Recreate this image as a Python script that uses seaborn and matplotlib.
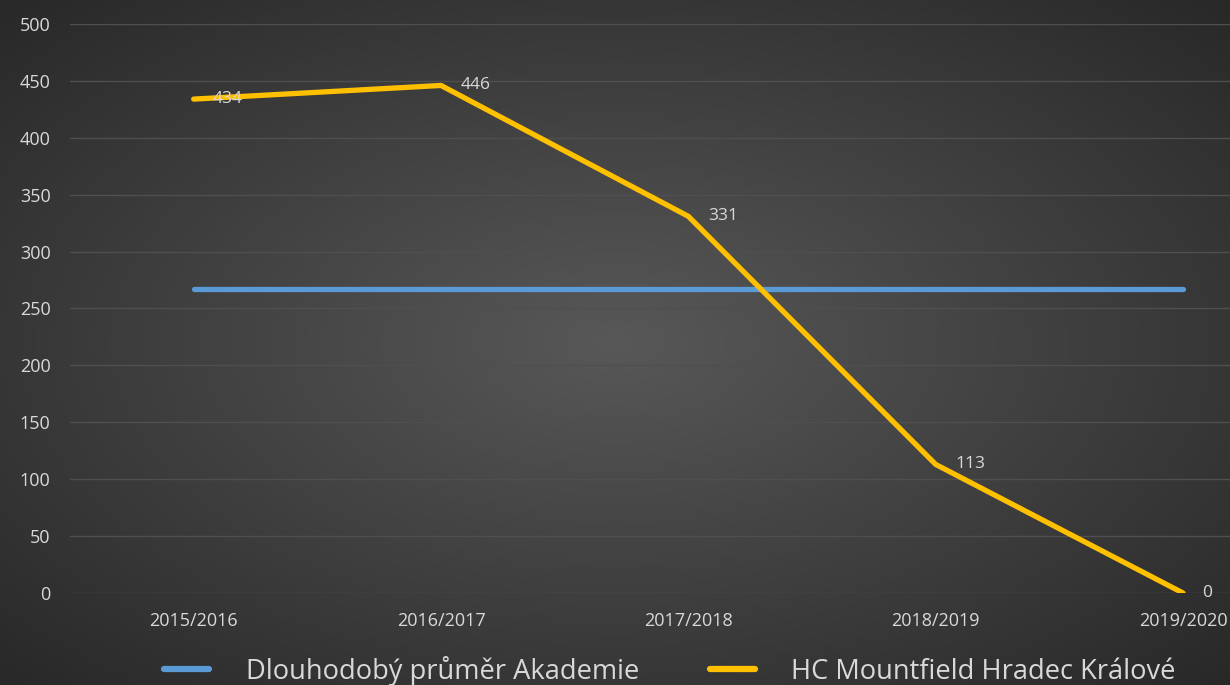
import numpy as np
import pandas as pd
import matplotlib
matplotlib.use("Agg")
import matplotlib.pyplot as plt
import seaborn as sns
from matplotlib.lines import Line2D

seasons = ["2015/2016", "2016/2017", "2017/2018", "2018/2019", "2019/2020"]
hk_values = [434, 446, 331, 113, 0]
avg_values = [267, 267, 267, 267, 267]
series_names = ["Dlouhodobý průměr Akademie", "HC Mountfield Hradec Králové"]
yticks = [0, 50, 100, 150, 200, 250, 300, 350, 400, 450, 500]

sns.set_theme(style="dark")
plt.rcParams["font.family"] = ["Open Sans", "DejaVu Sans"]

fig = plt.figure(figsize=(12.3, 6.85), dpi=100)

# radial gradient background
bg = fig.add_axes([0, 0, 1, 1], zorder=0)
h, w = 685, 1230
yy, xx = np.mgrid[0:h, 0:w]
r = np.sqrt(((xx - w / 2) / (w / 2)) ** 2 + ((yy - h / 2) / (h / 2)) ** 2) / np.sqrt(2)
r = np.clip(r, 0, 1)
inner = np.array([0x58, 0x58, 0x58]) / 255
outer = np.array([0x28, 0x28, 0x28]) / 255
img = inner[None, None, :] * (1 - r[..., None]) + outer[None, None, :] * r[..., None]
bg.imshow(img, aspect="auto", extent=[0, 1, 0, 1])
bg.axis("off")

ax = fig.add_axes([70 / 1230, (685 - 593) / 685, 1 - 70 / 1230, (593 - 24) / 685], zorder=1)
ax.set_facecolor("none")

df = pd.DataFrame({
    "season": seasons * 2,
    "x": list(range(len(seasons))) * 2,
    "value": avg_values + hk_values,
    "series": [series_names[0]] * len(seasons) + [series_names[1]] * len(seasons),
})
palette = {series_names[0]: "#5B9BD5", series_names[1]: "#FFC000"}
sns.lineplot(data=df, x="x", y="value", hue="series", palette=palette,
             linewidth=3.8, ax=ax, legend=False, solid_capstyle="round")

for i, v in enumerate(hk_values):
    ax.annotate(str(v), (i, v), xytext=(14, 0), textcoords="offset points",
                color="#D9D9D9", fontsize=12.5, va="center", ha="left", zorder=5)

ax.set_xlim(-0.5, 4.19)
ax.set_ylim(0, 500)
ax.set_yticks(yticks)
ax.set_xticks(range(len(seasons)))
ax.set_xticklabels(seasons)
ax.tick_params(axis="both", colors="#D9D9D9", labelsize=13, length=0)
ax.tick_params(axis="y", pad=14)
ax.tick_params(axis="x", pad=14)
ax.grid(axis="y", color="#4F4F4F", linewidth=1)
ax.grid(axis="x", visible=False)
for s in ax.spines.values():
    s.set_visible(False)
ax.set_xlabel("")
ax.set_ylabel("")

handles = [Line2D([], [], color=palette[n], linewidth=4.5, solid_capstyle="round") for n in series_names]
leg = fig.legend(handles, series_names, loc="center", bbox_to_anchor=(670 / 1230, (685 - 671) / 685),
                 ncol=2, frameon=False, fontsize=19.6, handlelength=1.65, handletextpad=1.35,
                 columnspacing=2.6, borderpad=0, borderaxespad=0)
for t in leg.get_texts():
    t.set_color("#D9D9D9")

fig.savefig("out.png", dpi=100)
